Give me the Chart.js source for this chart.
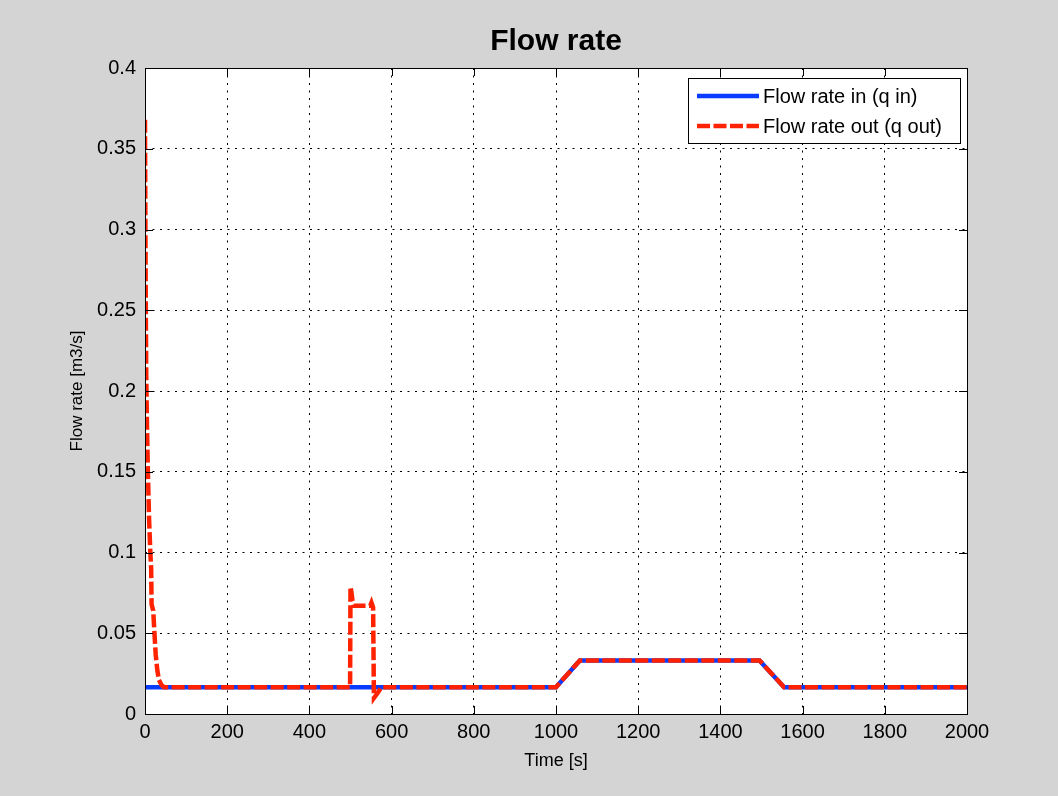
<!DOCTYPE html>
<html>
<head>
<meta charset="utf-8">
<title>Flow rate</title>
<script src="https://cdn.jsdelivr.net/npm/chart.js@4.4.1/dist/chart.umd.min.js"></script>
<style>
  body { margin: 0; background: #d4d4d4; }
  canvas { display: block; }
</style>
</head>
<body>
<canvas id="myChart" width="1058" height="796"></canvas>
<script>
// data
const timeIn = [0, 1000, 1058, 1495, 1555, 2000];
const flowIn = [0.0166, 0.0166, 0.0332, 0.0332, 0.0166, 0.0166];

const timeOut = [0, 1, 2, 3, 5, 7, 10, 13, 15, 16, 20, 23, 26, 30, 34, 40, 46,
                 499, 500, 502, 505, 508, 548, 551, 555, 557, 566, 575,
                 1000, 1058, 1495, 1555, 2000];
const flowOut = [0.368, 0.30, 0.25, 0.21, 0.175, 0.15, 0.12, 0.10, 0.09, 0.068, 0.064, 0.05, 0.037, 0.027, 0.021, 0.018, 0.0166,
                 0.0166, 0.0788, 0.076, 0.07, 0.067, 0.067, 0.069, 0.066, 0.0099, 0.013, 0.0166,
                 0.0166, 0.0332, 0.0332, 0.0166, 0.0166];

const seriesLabels = ["Flow rate in (q in)", "Flow rate out (q out)"];
const xTicks = [0, 200, 400, 600, 800, 1000, 1200, 1400, 1600, 1800, 2000];
const yTicks = [0, 0.05, 0.1, 0.15, 0.2, 0.25, 0.3, 0.35, 0.4];

function toPoints(xs, ys) {
    return xs.map((x, i) => ({ x: x, y: ys[i] }));
}

const FONT = "'Liberation Sans', Arial, Helvetica, sans-serif";

// grey figure background + white axes background
const backgroundPlugin = {
    id: "background",
    beforeDraw(chart) {
        const ctx = chart.ctx;
        const a = chart.chartArea;
        ctx.save();
        ctx.fillStyle = "#d4d4d4";
        ctx.fillRect(0, 0, chart.width, chart.height);
        ctx.fillStyle = "#ffffff";
        ctx.fillRect(a.left, a.top, a.right - a.left, a.bottom - a.top);
        ctx.restore();
    }
};

// matlab style box with inward ticks on all four sides, then the legend
const boxPlugin = {
    id: "box",
    afterDraw(chart) {
        const ctx = chart.ctx;
        const a = chart.chartArea;
        const xs = chart.scales.x;
        const ys = chart.scales.y;
        const len = 8;
        ctx.save();
        ctx.strokeStyle = "#000";
        ctx.lineWidth = 1;
        ctx.beginPath();
        xs.ticks.forEach(t => {
            const px = Math.round(xs.getPixelForValue(t.value)) + 0.5;
            ctx.moveTo(px, a.bottom); ctx.lineTo(px, a.bottom - len);
            ctx.moveTo(px, a.top); ctx.lineTo(px, a.top + len);
        });
        ys.ticks.forEach(t => {
            const py = Math.round(ys.getPixelForValue(t.value)) + 0.5;
            ctx.moveTo(a.left, py); ctx.lineTo(a.left + len, py);
            ctx.moveTo(a.right, py); ctx.lineTo(a.right - len, py);
        });
        ctx.stroke();
        ctx.strokeRect(Math.round(a.left) + 0.5, Math.round(a.top) + 0.5,
                       Math.round(a.right - a.left), Math.round(a.bottom - a.top));

        // legend
        const lx = 688, ly = 78, lw = 272, lh = 65;
        ctx.fillStyle = "#ffffff";
        ctx.fillRect(lx, ly, lw, lh);
        ctx.strokeRect(lx + 0.5, ly + 0.5, lw, lh);
        const rows = [96, 126];
        chart.data.datasets.forEach((ds, i) => {
            ctx.beginPath();
            ctx.strokeStyle = ds.borderColor;
            ctx.lineWidth = ds.borderWidth;
            ctx.setLineDash(ds.borderDash || []);
            ctx.moveTo(697, rows[i]);
            ctx.lineTo(759, rows[i]);
            ctx.stroke();
            ctx.setLineDash([]);
            ctx.fillStyle = "#000";
            ctx.font = "20px " + FONT;
            ctx.textBaseline = "middle";
            ctx.textAlign = "left";
            ctx.fillText(ds.label, 763, rows[i] + 1);
        });
        ctx.restore();
    }
};

new Chart("myChart", {
    type: "line",
    data: {
        datasets: [{
            label: seriesLabels[0],
            data: toPoints(timeIn, flowIn),
            borderColor: "#0a3cff",
            borderWidth: 4.5,
            pointRadius: 0,
            order: 1
        }, {
            label: seriesLabels[1],
            data: toPoints(timeOut, flowOut),
            borderColor: "#ff2200",
            borderWidth: 4.5,
            borderDash: [13, 3.5],
            pointRadius: 0,
            order: 0
        }]
    },
    options: {
        responsive: false,
        animation: false,
        devicePixelRatio: 1,
        layout: { padding: { left: 0, right: 91, top: 0, bottom: 0 } },
        plugins: {
            legend: { display: false },
            tooltip: { enabled: false },
            title: {
                display: true,
                fullSize: false,
                text: "Flow rate",
                color: "#000",
                font: { family: FONT, size: 30, weight: "bold" },
                padding: { top: 24, bottom: 8 }
            }
        },
        scales: {
            x: {
                type: "linear",
                min: 0,
                max: 2000,
                afterFit(scale) { scale.height = 82; },
                afterBuildTicks(scale) { scale.ticks = xTicks.map(v => ({ value: v })); },
                ticks: {
                    color: "#000",
                    font: { family: FONT, size: 20 },
                    padding: 6,
                    maxRotation: 0,
                    callback: v => String(v)
                },
                grid: { color: "#000", lineWidth: 1, drawTicks: false },
                border: { display: false, dash: [2, 5.5] },
                title: {
                    display: true,
                    text: "Time [s]",
                    color: "#000",
                    font: { family: FONT, size: 18 },
                    padding: { top: 0, bottom: 24 }
                }
            },
            y: {
                type: "linear",
                min: 0,
                max: 0.4,
                afterFit(scale) { scale.width = 145; },
                afterBuildTicks(scale) { scale.ticks = yTicks.map(v => ({ value: v })); },
                ticks: {
                    color: "#000",
                    font: { family: FONT, size: 20 },
                    padding: 9,
                    callback: v => String(+v.toFixed(2))
                },
                grid: { color: "#000", lineWidth: 1, drawTicks: false },
                border: { display: false, dash: [2, 5.5] },
                title: {
                    display: true,
                    text: "Flow rate [m3/s]",
                    color: "#000",
                    font: { family: FONT, size: 17 },
                    padding: { top: 67, bottom: 0 }
                }
            }
        }
    },
    plugins: [backgroundPlugin, boxPlugin]
});
</script>
</body>
</html>
